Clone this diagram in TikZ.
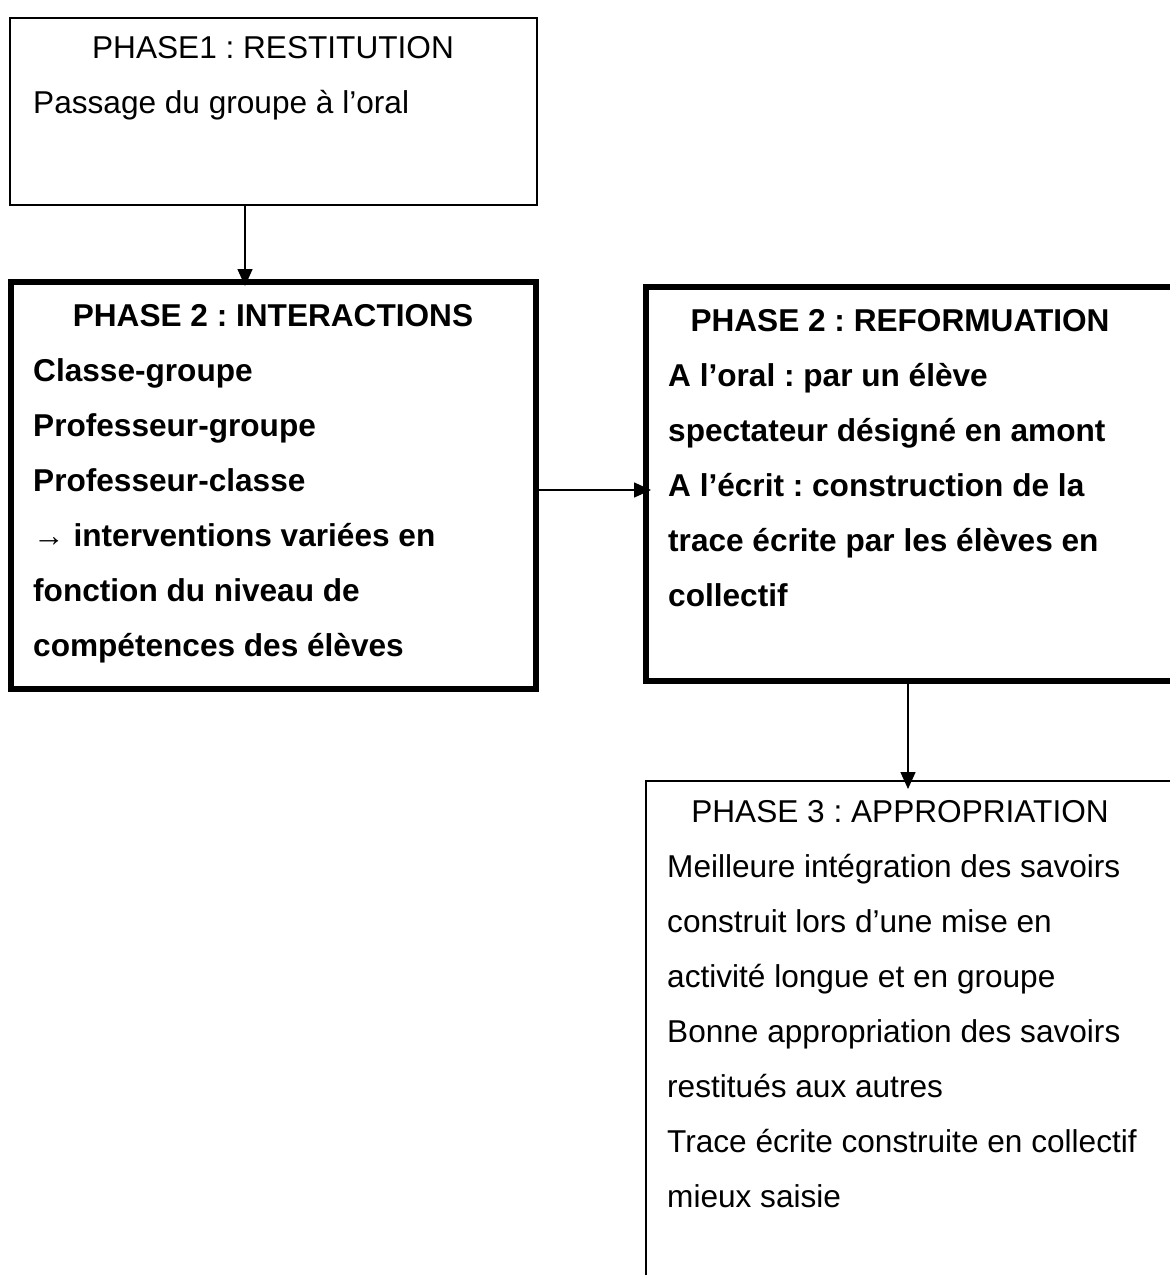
\documentclass[tikz,border=0pt]{standalone}
\usepackage{fontspec}
\setmainfont{Liberation Sans}
\usetikzlibrary{arrows.meta}
\frenchspacing
\begin{document}
\begin{tikzpicture}[x=1pt,y=-1pt,
  thinbox/.style={draw=black,line width=1.3pt,inner sep=0pt,outer sep=0pt,anchor=north west},
  thickbox/.style={draw=black,line width=5.5pt,inner sep=0pt,outer sep=0pt,anchor=north west},
  txt/.style={inner sep=0pt,anchor=base west,font=\fontsize{31.6}{38}\selectfont},
  ttl/.style={inner sep=0pt,anchor=base,font=\fontsize{31.6}{38}\selectfont},
  btxt/.style={txt,font=\fontsize{31.6}{38}\selectfont\bfseries},
  bttl/.style={ttl,font=\fontsize{31.6}{38}\selectfont\bfseries},
  arr/.style={line width=1.5pt,-{Triangle[length=17pt,width=15pt]}}]
\useasboundingbox (0,0) rectangle (1170,1275);
\clip (0,0) rectangle (1170,1275);
% boxes
\node[thinbox,minimum width=527pt,minimum height=187pt] (b1) at (10,18) {};
\node[thickbox,minimum width=525pt,minimum height=407pt] (b2) at (11,282) {};
\node[thickbox,minimum width=560pt,minimum height=394pt] (b3) at (646,287) {};
\node[thinbox,minimum width=560pt,minimum height=540pt] (b4) at (646,781) {};
% box 1 text
\node[ttl] (t1) at (273,58) {PHASE1 : RESTITUTION};
\node[txt] (t1a) at (33,113) {Passage du groupe à l’oral};
% box 2 text
\node[bttl] (t2) at (273,326) {PHASE 2 : INTERACTIONS};
\node[btxt] (t2a) at (33,381) {Classe-groupe};
\node[btxt] (t2b) at (33,436) {Professeur-groupe};
\node[btxt] (t2c) at (33,491) {Professeur-classe};
\node[btxt] (t2d) at (33,546) {{\mdseries →} interventions variées en};
\node[btxt] (t2e) at (33,601) {fonction du niveau de};
\node[btxt] (t2f) at (33,656) {compétences des élèves};
% box 3 text
\node[bttl] (t3) at (900,331) {PHASE 2 : REFORMUATION};
\node[btxt] (t3a) at (668,386) {A l’oral : par un élève};
\node[btxt] (t3b) at (668,441) {spectateur désigné en amont};
\node[btxt] (t3c) at (668,496) {A l’écrit : construction de la};
\node[btxt] (t3d) at (668,551) {trace écrite par les élèves en};
\node[btxt] (t3e) at (668,606) {collectif};
% box 4 text
\node[ttl] (t4) at (900,822) {PHASE 3 : APPROPRIATION};
\node[txt] (t4a) at (667,877) {Meilleure intégration des savoirs};
\node[txt] (t4b) at (667,932) {construit lors d’une mise en};
\node[txt] (t4c) at (667,987) {activité longue et en groupe};
\node[txt] (t4d) at (667,1042) {Bonne appropriation des savoirs};
\node[txt] (t4e) at (667,1097) {restitués aux autres};
\node[txt] (t4f) at (667,1152) {Trace écrite construite en collectif};
\node[txt] (t4g) at (667,1207) {mieux saisie};
% connectors
\coordinate (c1) at (245,0);
\coordinate (c2) at (0,490);
\coordinate (c3) at (908,0);
\draw[arr,shorten >=-4pt] (b1.south -| c1) -- (b2.north -| c1);
\draw[arr,shorten >=-5pt] (b2.east |- c2) -- (b3.west |- c2);
\draw[arr,shorten >=-8pt] (b3.south -| c3) -- (b4.north -| c3);
\end{tikzpicture}
\end{document}
